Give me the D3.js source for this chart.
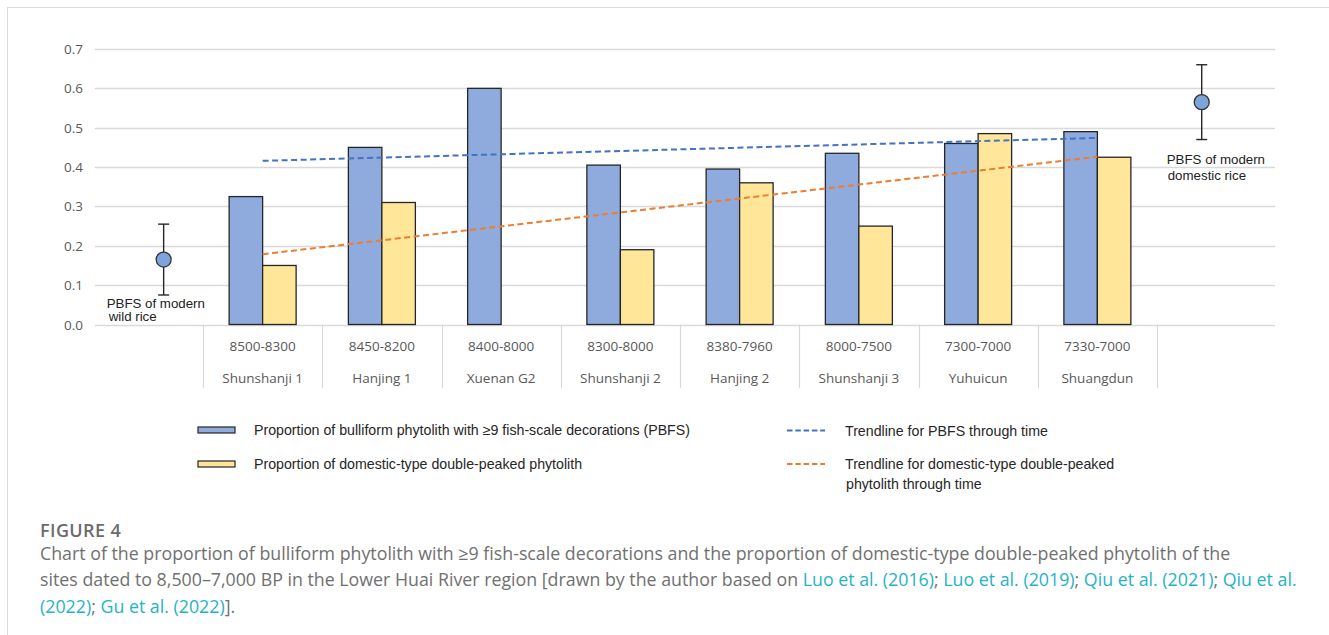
<!DOCTYPE html>
<html>
<head>
<meta charset="utf-8">
<script src="https://cdn.jsdelivr.net/npm/d3@7"></script>
<style>
  body { margin: 0; background: #fff; }
  svg { display: block; }
</style>
</head>
<body>
<svg id="chart" width="1329" height="635"></svg>
<script>
"use strict";

// sites in chronological order, with their date ranges (BP)
const sites = ["Shunshanji 1", "Hanjing 1", "Xuenan G2", "Shunshanji 2", "Hanjing 2", "Shunshanji 3", "Yuhuicun", "Shuangdun"]
const dates = ["8500-8300", "8450-8200", "8400-8000", "8300-8000", "8380-7960", "8000-7500", "7300-7000", "7330-7000"]

// proportion of bulliform phytolith with >=9 fish-scale decorations
const pbfs = [0.325, 0.45, 0.60, 0.405, 0.395, 0.435, 0.46, 0.49]
// proportion of domestic-type double-peaked phytolith (none for Xuenan G2)
const domestic = [0.15, 0.31, null, 0.19, 0.36, 0.25, 0.485, 0.425]

// modern reference PBFS (mean with range), placed on the site index axis
const refNames = [["PBFS of modern", "wild rice"], ["PBFS of modern", "domestic rice"]]
const refMean = [0.165, 0.565]
const refLow = [0.075, 0.47]
const refHigh = [0.255, 0.66]
const refIndex = [-0.83, 7.875]

const yTicks = [0, 0.1, 0.2, 0.3, 0.4, 0.5, 0.6, 0.7]

const blueFill = "#8FAADC"
const yellowFill = "#FFE699"
const blueTrend = "#4472C4"
const orangeTrend = "#ED7D31"

const svg = d3.select("#chart")

// page frame
svg.append("line").attr("x1", 7).attr("x2", 1329).attr("y1", 7.5).attr("y2", 7.5).attr("stroke", "#dcdcdc")
svg.append("line").attr("x1", 7.5).attr("x2", 7.5).attr("y1", 7).attr("y2", 635).attr("stroke", "#dcdcdc")

const y = d3.scaleLinear().domain([0, 0.7]).range([324.5, 49])
const x = d3.scaleBand().domain(sites).range([203, 1157])
const xSub = d3.scaleBand().domain(["pbfs", "dom"]).range([0, x.bandwidth()]).paddingOuter(0.78)
const xIdx = d3.scaleLinear().domain([0, sites.length - 1])
    .range([x(sites[0]) + x.bandwidth() / 2, x(sites[sites.length - 1]) + x.bandwidth() / 2])

// gridlines
svg.append("g")
    .selectAll("line")
    .data(yTicks)
    .join("line")
    .attr("x1", 95).attr("x2", 1275)
    .attr("y1", d => Math.round(y(d)) + 0.5).attr("y2", d => Math.round(y(d)) + 0.5)
    .attr("stroke", "#d9d9d9")
    .attr("stroke-width", 1.3)

// y tick labels
svg.append("g")
    .selectAll("text")
    .data(yTicks)
    .join("text")
    .attr("x", 83)
    .attr("y", d => y(d) + 5)
    .attr("text-anchor", "end")
    .style("font", "13.5px 'Open Sans', sans-serif")
    .attr("fill", "#595959")
    .text(d => d.toFixed(1))

// category separators
const seps = sites.map(s => x(s)).concat([x.range()[1]])
svg.append("g")
    .selectAll("line")
    .data(seps)
    .join("line")
    .attr("x1", d => Math.round(d) + 0.5).attr("x2", d => Math.round(d) + 0.5)
    .attr("y1", y(0)).attr("y2", 388)
    .attr("stroke", "#d9d9d9")
    .attr("stroke-width", 1.2)

// category labels
const catLabels = svg.append("g")
    .style("font", "13.5px 'Open Sans', sans-serif")
    .attr("fill", "#595959")
    .attr("text-anchor", "middle")
catLabels.selectAll("text.date")
    .data(sites)
    .join("text")
    .attr("class", "date")
    .attr("x", d => x(d) + x.bandwidth() / 2)
    .attr("y", 351)
    .text((d, i) => dates[i])
catLabels.selectAll("text.site")
    .data(sites)
    .join("text")
    .attr("class", "site")
    .attr("x", d => x(d) + x.bandwidth() / 2)
    .attr("y", 383)
    .text(d => d)

// bars
const barData = []
sites.forEach((s, i) => {
    barData.push({ site: s, key: "pbfs", value: pbfs[i] })
    if (domestic[i] != null) barData.push({ site: s, key: "dom", value: domestic[i] })
})
svg.append("g")
    .selectAll("rect")
    .data(barData)
    .join("rect")
    .attr("x", d => x(d.site) + xSub(d.key))
    .attr("y", d => y(d.value))
    .attr("width", xSub.bandwidth())
    .attr("height", d => y(0) - y(d.value))
    .attr("fill", d => d.key == "pbfs" ? blueFill : yellowFill)
    .attr("stroke", "#262626")
    .attr("stroke-width", 1.3)

// least-squares trendline over the site index
function trend(values) {
    const pts = values.map((v, i) => [i, v]).filter(p => p[1] != null)
    const mx = d3.mean(pts, p => p[0])
    const my = d3.mean(pts, p => p[1])
    const slope = d3.sum(pts, p => (p[0] - mx) * (p[1] - my)) / d3.sum(pts, p => (p[0] - mx) ** 2)
    const icpt = my - slope * mx
    return [0, values.length - 1].map(i => [i, icpt + slope * i])
}
const line = d3.line().x(d => xIdx(d[0])).y(d => y(d[1]))
svg.append("path")
    .attr("d", line(trend(pbfs)))
    .attr("fill", "none")
    .attr("stroke", blueTrend)
    .attr("stroke-width", 2)
    .attr("stroke-dasharray", "6,3.5")
svg.append("path")
    .attr("d", line(trend(domestic)))
    .attr("fill", "none")
    .attr("stroke", orangeTrend)
    .attr("stroke-width", 2)
    .attr("stroke-dasharray", "6,3.5")

// modern rice reference points with range bars
const refs = refMean.map((m, i) => ({ mean: m, low: refLow[i], high: refHigh[i], idx: refIndex[i], name: refNames[i] }))
const ref = svg.append("g")
    .selectAll("g")
    .data(refs)
    .join("g")
    .attr("transform", d => `translate(${xIdx(d.idx)},0)`)
ref.append("line")
    .attr("y1", d => y(d.low)).attr("y2", d => y(d.high))
    .attr("stroke", "#262626").attr("stroke-width", 1.4)
ref.append("line")
    .attr("x1", -5.5).attr("x2", 5.5)
    .attr("y1", d => y(d.low)).attr("y2", d => y(d.low))
    .attr("stroke", "#262626").attr("stroke-width", 1.4)
ref.append("line")
    .attr("x1", -5.5).attr("x2", 5.5)
    .attr("y1", d => y(d.high)).attr("y2", d => y(d.high))
    .attr("stroke", "#262626").attr("stroke-width", 1.4)
ref.append("circle")
    .attr("cy", d => y(d.mean))
    .attr("r", 7.5)
    .attr("fill", "#7FA3DB")
    .attr("stroke", "#333")
    .attr("stroke-width", 1.3)

// reference labels
const refText = svg.append("g")
    .style("font", "13.3px 'Liberation Sans', Arial, sans-serif")
    .attr("fill", "#222")
refText.append("text").attr("x", xIdx(refIndex[0]) - 57).attr("y", 308).text(refNames[0][0])
refText.append("text").attr("x", xIdx(refIndex[0]) - 55).attr("y", 320.5).text(refNames[0][1])
refText.append("text").attr("x", xIdx(refIndex[1]) - 35).attr("y", 164).text(refNames[1][0])
refText.append("text").attr("x", xIdx(refIndex[1]) - 34).attr("y", 180).text(refNames[1][1])

// legend
const legendItems = [
    { label: ["Proportion of bulliform phytolith with ≥9 fish-scale decorations (PBFS)"], kind: "bar", color: blueFill },
    { label: ["Proportion of domestic-type double-peaked phytolith"], kind: "bar", color: yellowFill },
    { label: ["Trendline for PBFS through time"], kind: "line", color: blueTrend },
    { label: ["Trendline for domestic-type double-peaked", "phytolith through time"], kind: "line", color: orangeTrend }
]
const legendPos = [[198, 430], [198, 464], [787, 430.5], [787, 464]]
const legend = svg.append("g")
    .style("font", "14.2px 'Liberation Sans', Arial, sans-serif")
    .attr("fill", "#262626")
legendItems.forEach((item, i) => {
    const [lx, ly] = legendPos[i]
    if (item.kind == "bar") {
        legend.append("rect")
            .attr("x", lx).attr("y", ly - 3)
            .attr("width", 37).attr("height", 6)
            .attr("fill", item.color)
            .attr("stroke", "#262626").attr("stroke-width", 1.2)
        legend.append("text").attr("x", lx + 56).attr("y", ly + 5).text(item.label[0])
    } else {
        legend.append("line")
            .attr("x1", lx).attr("x2", lx + 38)
            .attr("y1", ly).attr("y2", ly)
            .attr("stroke", item.color).attr("stroke-width", 1.8)
            .attr("stroke-dasharray", "5.5,2.8")
        item.label.forEach((t, j) => {
            legend.append("text").attr("x", lx + 58 + j).attr("y", ly + 5 + j * 20).text(t)
        })
    }
})

// caption
const cap = svg.append("g")
    .style("font-family", "'Open Sans', sans-serif")
cap.append("text")
    .attr("x", 40).attr("y", 536.5)
    .style("font-size", "18px")
    .style("font-weight", "600")
    .style("letter-spacing", "0.4px")
    .attr("fill", "#6b6b6b")
    .text("FIGURE 4")

const linkColor = "#1FB3C7"
const textColor = "#707070"
const captionLines = [
    [["Chart of the proportion of bulliform phytolith with ≥9 fish-scale decorations and the proportion of domestic-type double-peaked phytolith of the", false]],
    [["sites dated to 8,500–7,000 BP in the Lower Huai River region [drawn by the author based on ", false],
     ["Luo et al. (2016)", true], ["; ", false], ["Luo et al. (2019)", true], ["; ", false],
     ["Qiu et al. (2021)", true], ["; ", false], ["Qiu et al.", true]],
    [["(2022)", true], ["; ", false], ["Gu et al. (2022)", true], ["].", false]]
]
captionLines.forEach((parts, i) => {
    const t = cap.append("text")
        .attr("x", 40).attr("y", 560 + i * 26.3)
        .style("font-size", "17.8px")
    parts.forEach(([s, isLink]) => {
        t.append("tspan").attr("fill", isLink ? linkColor : textColor).text(s)
    })
})
</script>
</body>
</html>
